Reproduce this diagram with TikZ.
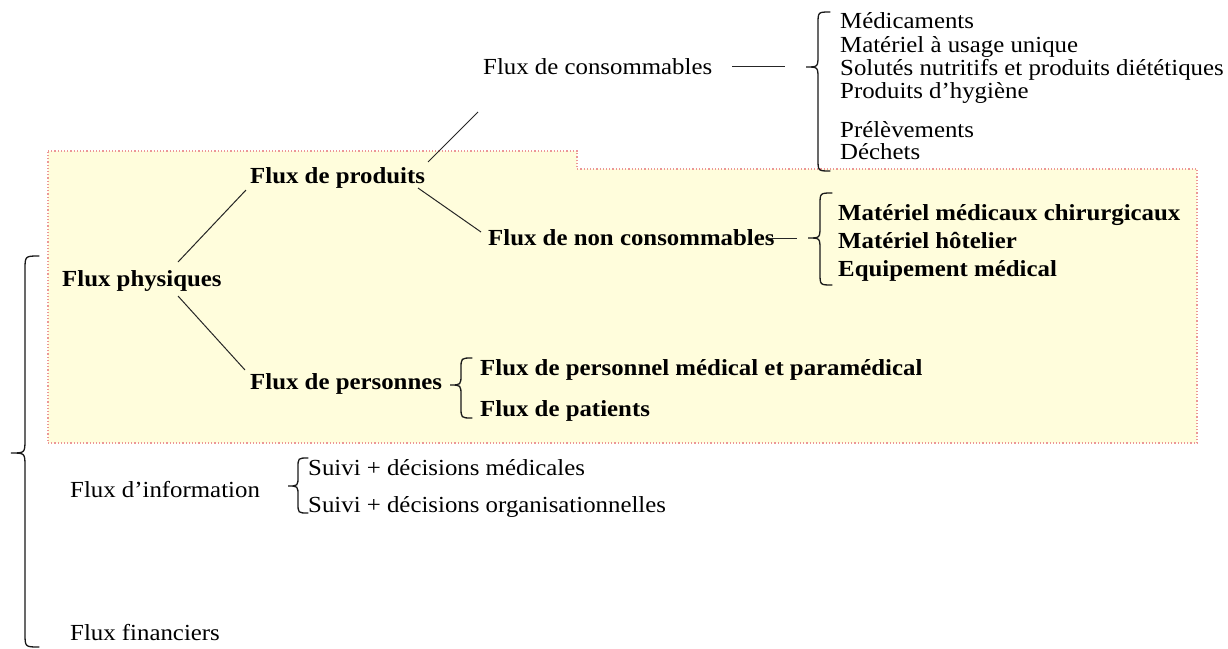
\documentclass[tikz,border=0pt]{standalone}
\usepackage{fontspec}
\setmainfont{Liberation Serif}[FakeStretch=1.08]
\definecolor{zonefill}{RGB}{255,253,220}
\definecolor{zonedots}{RGB}{236,150,150}
\newcommand\lbracepath[5]{% x right, width, y top, y tip, y bottom
  \draw[bracestyle] (#1,#3) .. controls ({#1-#2/2},#3) .. ({#1-#2/2},{#3+#2/2})
    -- ({#1-#2/2},{#4-#2/2}) .. controls ({#1-#2/2},#4) .. ({#1-#2},#4)
    .. controls ({#1-#2/2},#4) .. ({#1-#2/2},{#4+#2/2})
    -- ({#1-#2/2},{#5-#2/2}) .. controls ({#1-#2/2},#5) .. (#1,#5);}
\begin{document}
\begin{tikzpicture}[x=1pt,y=-1pt,
  lab/.style={anchor=base west, inner sep=0pt, font=\fontsize{23}{25}\selectfont},
  blab/.style={lab, font=\fontsize{23}{25}\selectfont\bfseries},
  link/.style={line width=1pt, black!85},
  bracestyle/.style={line width=1.3pt, black!90, line cap=round}]
\useasboundingbox (0,0) rectangle (1228,648);
% shaded zone
\draw[fill=zonefill, draw=zonedots, dotted, line width=1.2pt]
  (48,151) -- (577,151) -- (577,169) -- (1197,169) -- (1197,443) -- (48,443) -- cycle;
% nodes
\node[blab] (phys) at (62,286) {Flux physiques};
\node[blab] (prod) at (250,183) {Flux de produits};
\node[blab] (pers) at (250,389) {Flux de personnes};
\node[lab]  (cons) at (483,74) {Flux de consommables};
\node[blab] (ncons) at (488,245) {Flux de non consommables};
\node[lab] (c1) at (840,28) {Médicaments};
\node[lab] (c2) at (840,52) {Matériel à usage unique};
\node[lab] (c3) at (840,75) {Solutés nutritifs et produits diététiques};
\node[lab] (c4) at (840,98) {Produits d’hygiène};
\node[lab] (c5) at (840,137) {Prélèvements};
\node[lab] (c6) at (840,159) {Déchets};
\node[blab] (n1) at (838,220) {Matériel médicaux chirurgicaux};
\node[blab] (n2) at (838,248) {Matériel hôtelier};
\node[blab] (n3) at (838,276) {Equipement médical};
\node[blab] (p1) at (480,375) {Flux de personnel médical et paramédical};
\node[blab] (p2) at (480,416) {Flux de patients};
\node[lab] (info) at (70,497) {Flux d’information};
\node[lab] (i1) at (308,475) {Suivi + décisions médicales};
\node[lab] (i2) at (308,512) {Suivi + décisions organisationnelles};
\node[lab] (fin) at (70,640) {Flux financiers};
% connector end points
\coordinate (physN) at (178,262);
\coordinate (physS) at (178,296);
\coordinate (prodW) at (246,190);
\coordinate (persW) at (245,370);
\coordinate (prodNE) at (428,162);
\coordinate (consSW) at (478,112);
\coordinate (prodSE) at (418,188);
\coordinate (nconsW) at (481,232);
\coordinate (consE) at (732,66);
\coordinate (consDash) at (785,66);
\coordinate (nconsE) at (766,238);
\coordinate (nconsDash) at (797,238);
\draw[link] (physN) -- (prodW);
\draw[link] (physS) -- (persW);
\draw[link] (prodNE) -- (consSW);
\draw[link] (prodSE) -- (nconsW);
\draw[link] (consE) -- (consDash);
\draw[link] (nconsE) -- (nconsDash);
% braces
\lbracepath{830}{24}{12}{67}{171}
\lbracepath{832}{24}{193}{238}{285}
\lbracepath{472}{22}{358}{385}{418}
\lbracepath{308}{20}{458}{486}{513}
\lbracepath{39}{28}{256}{453}{647}
\end{tikzpicture}
\end{document}
